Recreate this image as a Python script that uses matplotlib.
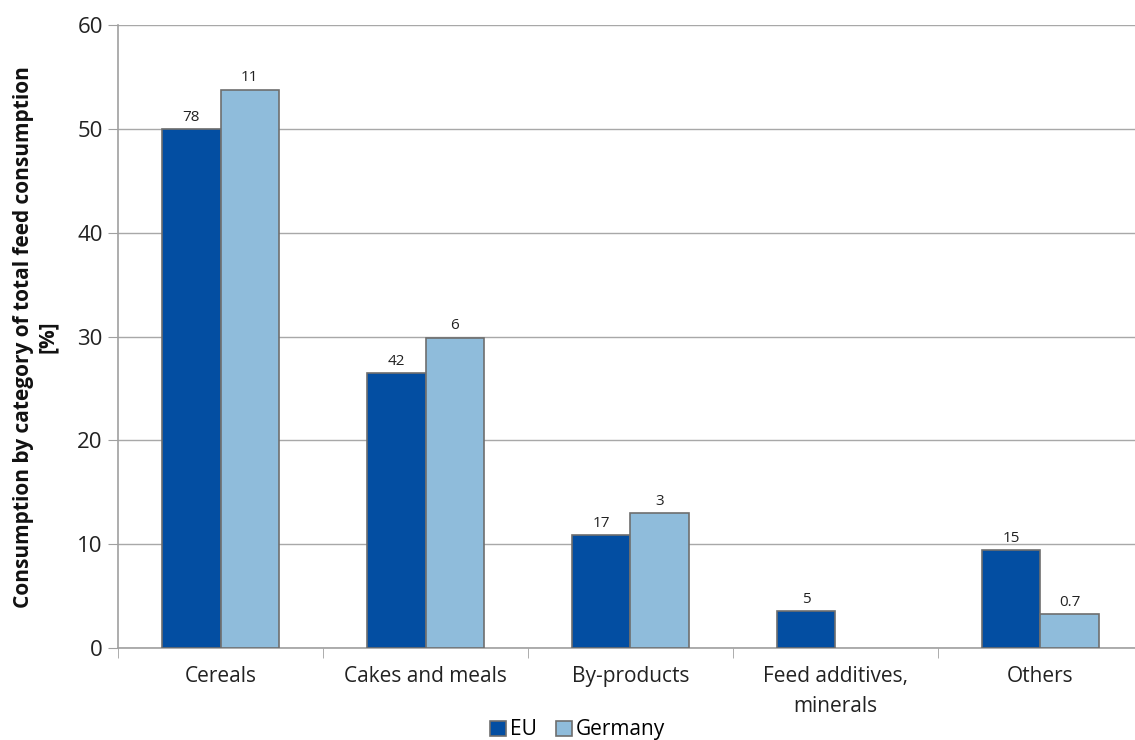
import matplotlib
matplotlib.use("Agg")
import matplotlib.pyplot as plt
import numpy as np

categories = ["Cereals", "Cakes and meals", "By-products", "Feed additives,\nminerals", "Others"]
eu_share = [50.0, 26.5, 10.9, 3.55, 9.45]
de_share = [53.8, 29.9, 13.0, np.nan, 3.3]
eu_labels = ["78", "42", "17", "5", "15"]
de_labels = ["11", "6", "3", "", "0.7"]
yticks = [0, 10, 20, 30, 40, 50, 60]

plt.rcParams["font.family"] = ["Open Sans", "DejaVu Sans"]

fig = plt.figure(figsize=(11.35, 7.4), dpi=100)
ax = fig.add_axes([0.104, 0.1243, 0.903, 0.8417])

x = np.arange(len(categories))
w = 0.285
eu_color = "#034EA2"
de_color = "#8FBCDB"
edge = "#6E6E6E"

b1 = ax.bar(x - w / 2, eu_share, w, color=eu_color, edgecolor=edge, linewidth=1.2, label="EU", zorder=3)
b2 = ax.bar(x + w / 2, de_share, w, color=de_color, edgecolor=edge, linewidth=1.2, label="Germany", zorder=3)

for rect, lab in zip(b1, eu_labels):
    if lab:
        ax.annotate(lab, (rect.get_x() + rect.get_width() / 2, rect.get_height()),
                    xytext=(0, 3), textcoords="offset points", ha="center", va="bottom",
                    fontsize=11, color="#222222")
for rect, lab in zip(b2, de_labels):
    h = rect.get_height()
    if lab and np.isfinite(h):
        ax.annotate(lab, (rect.get_x() + rect.get_width() / 2, h),
                    xytext=(0, 3), textcoords="offset points", ha="center", va="bottom",
                    fontsize=11, color="#222222")

ax.set_xlim(-0.5, len(categories) - 0.5)
ax.set_ylim(0, 60)
ax.set_yticks(yticks)
ax.tick_params(axis="y", labelsize=16, length=7, color="#A0A0A0", pad=4, labelcolor="#222222")
ax.yaxis.grid(True, color="#A8A8A8", linewidth=1.0, zorder=0)

ax.set_xticks(x)
ax.set_xticklabels(categories, fontsize=15, color="#222222", linespacing=1.55)
ax.tick_params(axis="x", which="major", length=0, pad=13)
ax.set_xticks(np.arange(-0.5, len(categories), 1.0), minor=True)
ax.tick_params(axis="x", which="minor", length=7, color="#A0A0A0")

for side in ["top", "right"]:
    ax.spines[side].set_visible(False)
for side in ["left", "bottom"]:
    ax.spines[side].set_color("#A0A0A0")
    ax.spines[side].set_linewidth(1.2)

ax.set_ylabel("Consumption by category of total feed consumption\n[%]",
              fontsize=15, fontweight="bold", color="#111111", labelpad=14, linespacing=1.15)

leg = fig.legend(handles=[b1, b2], labels=["EU", "Germany"], loc="lower center",
                 bbox_to_anchor=(0.509, -0.026), ncol=2, frameon=False, fontsize=15,
                 handlelength=0.75, handleheight=0.75, handletextpad=0.2, columnspacing=0.9)

fig.savefig("out.png", dpi=100)
